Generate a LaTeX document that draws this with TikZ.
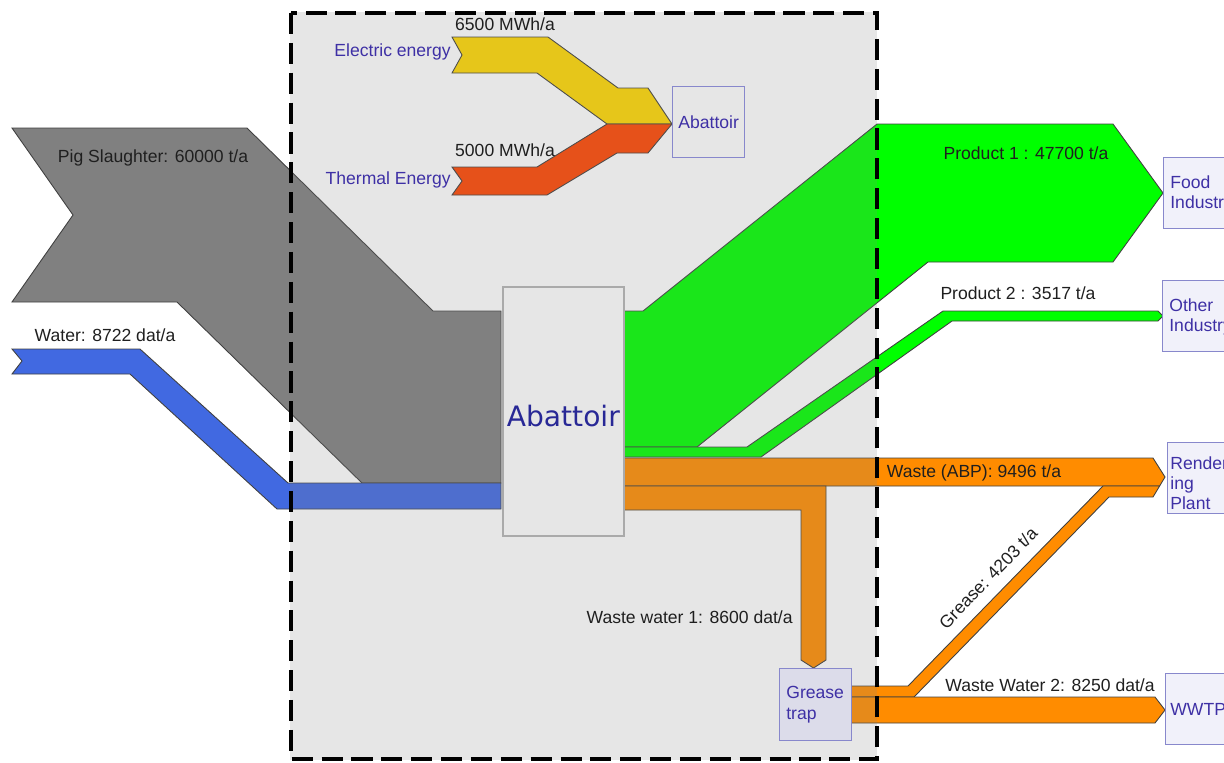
\documentclass[tikz,border=0pt]{standalone}
\usepackage{fontspec}
\setmainfont{Liberation Sans}
\newfontfamily\bigfont{DejaVu Sans}
\definecolor{flowgray}{RGB}{128,128,128}
\definecolor{waterblue}{RGB}{65,105,225}
\definecolor{prodgreen}{RGB}{0,255,0}
\definecolor{wasteorange}{RGB}{255,140,0}
\definecolor{elecgold}{RGB}{255,215,0}
\definecolor{thermred}{RGB}{255,69,0}
\definecolor{overlaygray}{RGB}{130,130,130}
\definecolor{labelpurple}{RGB}{62,48,165}
\definecolor{bigblue}{RGB}{40,40,150}
\definecolor{boxborder}{RGB}{136,136,204}
\definecolor{boxfill}{RGB}{241,241,250}
\definecolor{trapfill}{RGB}{220,220,234}
\definecolor{abbox}{RGB}{230,230,230}
\definecolor{abborder}{RGB}{170,170,170}
\begin{document}
\begin{tikzpicture}[x=0.02cm,y=-0.02cm,
  flow/.style={draw=black!75, line width=0.5pt, line join=miter},
  lbl/.style={font=\fontsize{10}{12}\selectfont, text=black!88, inner sep=0pt},
  plbl/.style={lbl, text=labelpurple},
  sbox/.style={draw=boxborder, fill=boxfill, line width=0.8pt, anchor=north west, minimum width=2cm, minimum height=1.42cm, inner sep=0pt},
  btext/.style={font=\fontsize{10}{11.6}\selectfont, text=labelpurple, align=left, anchor=west, inner sep=0pt}]
\useasboundingbox (0,0) rectangle (1224,762);
\clip (0,0) rectangle (1224,762);
% ---- flows ----
\draw[flow, fill=flowgray] (12,128) -- (247,128) -- (433,311) -- (501,311) -- (501,483) -- (362,483) -- (177,302) -- (12,302) -- (73,215) -- cycle;
\draw[flow, fill=waterblue] (12,349) -- (140,349) -- (288,483) -- (501,483) -- (501,509) -- (277,509) -- (130,374) -- (12,374) -- (22,361) -- cycle;
\draw[flow, fill=prodgreen] (623,311) -- (643,311) -- (877,124) -- (1113,124) -- (1163,193) -- (1113,262) -- (928,262) -- (697,447) -- (623,447) -- cycle;
\draw[flow, fill=prodgreen] (623,447) -- (747,447) -- (943,311) -- (1158,311) -- (1163,316) -- (1158,321) -- (952,321) -- (761,457) -- (623,457) -- cycle;
\draw[flow, fill=wasteorange] (623,458) -- (1153,458) -- (1165,477) -- (1159.6,486) -- (623,486) -- cycle;
\draw[flow, fill=wasteorange] (623,486) -- (826,486) -- (826,660) -- (813.5,668) -- (801,660) -- (801,510) -- (623,510) -- cycle;
\draw[flow, fill=wasteorange] (851,686) -- (908,686) -- (1103,486) -- (1159.6,486) -- (1153,497) -- (1109,497) -- (914,697) -- (851,697) -- cycle;
\draw[flow, fill=wasteorange] (851,697) -- (1155,697) -- (1165,710) -- (1155,723) -- (851,723) -- cycle;
\draw[flow, fill=elecgold] (452,37) -- (548,37) -- (618,88) -- (648,88) -- (672,124) -- (607,124) -- (537,73) -- (452,73) -- (462,55) -- cycle;
\draw[flow, fill=thermred] (452,167) -- (537,167) -- (607,124) -- (672,124) -- (648,153) -- (617,153) -- (547,195) -- (452,195) -- (462,181) -- cycle;
% ---- system boundary shading ----
\fill[overlaygray, fill opacity=0.2] (290,12) rectangle (877,760);
% ---- boxes ----
\node[draw=abborder, fill=abbox, line width=1pt, anchor=north west, minimum width=2.42cm, minimum height=4.98cm, inner sep=0pt] (abattoir) at (502,286) {};
\node[font=\bigfont\fontsize{16}{18}\selectfont, text=bigblue, inner sep=0pt] (abattoirtext) at ([yshift=-0.1cm]abattoir.center) {Abattoir};
\node[sbox, fill=abbox, minimum width=1.44cm] (energybox) at (672,86) {};
\node[btext, anchor=center] (energytext) at (energybox.center) {Abattoir};
\node[sbox, fill=trapfill, minimum width=1.44cm, minimum height=1.44cm] (trap) at (779,668) {};
\node[btext] (traptext) at ([xshift=0.14cm]trap.west) {Grease\\trap};
\node[sbox] (food) at (1163,157) {};
\node[btext] (foodtext) at ([xshift=0.14cm,yshift=-0.02cm]food.west) {Food\\Industry};
\node[sbox] (other) at (1162,280) {};
\node[btext] (othertext) at ([xshift=0.14cm,yshift=-0.02cm]other.west) {Other\\Industry};
\node[sbox] (render) at (1167,442) {};
\node[btext] (rendertext) at ([xshift=0.06cm,yshift=-0.1cm]render.west) {Render\\ing\\Plant};
\node[sbox] (wwtp) at (1165,673) {};
\node[btext] (wwtptext) at ([xshift=0.1cm]wwtp.west) {WWTP};
% ---- labels ----
\node[lbl] (l6500) at (505,24) {6500 MWh/a};
\node[plbl, anchor=east] (lelec) at (451,52) {Electric energy};
\node[lbl] (l5000) at (505,150) {5000 MWh/a};
\node[plbl, anchor=east] (ltherm) at (451,180) {Thermal Energy};
\node[lbl] (lpig) at (153,158) {Pig Slaughter: 60000 t/a};
\node[lbl] (lwater) at (105,335) {Water: 8722 dat/a};
\node[lbl] (lprod1) at (1026,153) {Product 1 : 47700 t/a};
\node[lbl] (lprod2) at (1018,293) {Product 2 : 3517 t/a};
\node[lbl] (labp) at (974,473) {Waste (ABP): 9496 t/a};
\node[lbl, anchor=east] (lww1) at (793,617) {Waste water 1: 8600 dat/a};
\node[lbl] (lww2) at (1050,685) {Waste Water 2: 8250 dat/a};
\node[lbl, rotate=46] (lgrease) at (988,578) {Grease: 4203 t/a};
% ---- dashed boundary ----
\draw[line width=2.3pt, dash pattern=on 12pt off 5pt] (291,13) rectangle (877,759);
\end{tikzpicture}
\end{document}
